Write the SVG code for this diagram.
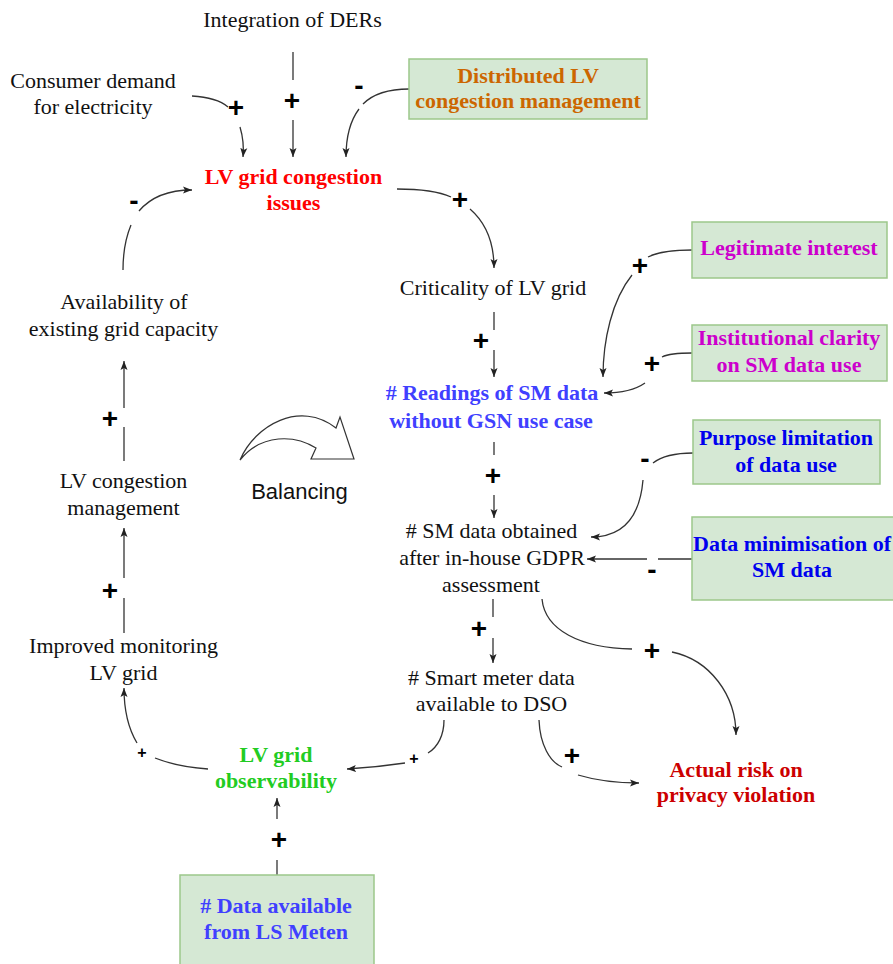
<svg xmlns="http://www.w3.org/2000/svg" width="893" height="964" viewBox="0 0 893 964">
<style>
.t{font-family:"Liberation Serif","Times New Roman",serif;font-size:22px;text-anchor:middle;fill:#111}
.b{font-weight:bold}
.box{fill:#d5e8d4;stroke:#9cc78a;stroke-width:1.5}
.c{fill:none;stroke:#333;stroke-width:1.3}
.a{marker-end:url(#arr)}
.s{font-family:"Liberation Sans",Arial,sans-serif;font-weight:bold;font-size:28px;text-anchor:middle;fill:#000}
.ss{font-family:"Liberation Sans",Arial,sans-serif;font-weight:bold;font-size:16px;text-anchor:middle;fill:#000}
</style>
<defs>
<marker id="arr" markerUnits="userSpaceOnUse" markerWidth="10" markerHeight="8" refX="9" refY="4" orient="auto">
<path d="M0,0.5 L9,4 L0,7.5 L2,4 Z" fill="#222"/>
</marker>
</defs>
<rect width="893" height="964" fill="#fff"/>

<g id="connectors">
<path class="c" d="M192,96 C210,97 221,101 228,107"/>
<path class="c a" d="M240,127 C243,137 244,146 243,157"/>
<text class="s" x="236" y="117">+</text>

<path class="c" d="M293,52 L293,80"/>
<path class="c a" d="M293,120 L293,157"/>
<text class="s" x="292" y="110">+</text>

<path class="c" d="M409,89 C388,89 372,95 363,104"/>
<path class="c a" d="M359,109 C350,121 346,138 346,157"/>
<text class="s" x="359" y="95">-</text>

<path class="c" d="M397,189 C420,189 440,192 451,197"/>
<path class="c a" d="M470,209 C485,222 494,240 494,268"/>
<text class="s" x="460" y="209">+</text>

<path class="c" d="M494,312 L494,330"/>
<path class="c a" d="M494,350 L494,377"/>
<text class="s" x="481" y="350">+</text>

<path class="c" d="M692,250 C672,250 658,252 648,257"/>
<path class="c a" d="M632,275 C612,300 603,340 603,377"/>
<text class="s" x="640" y="275">+</text>

<path class="c" d="M692,353 C678,353 668,354 662,357"/>
<path class="c a" d="M645,383 C635,390 620,393 604,393"/>
<text class="s" x="652" y="373">+</text>

<path class="c" d="M494,442 L494,455"/>
<path class="c a" d="M494,495 L494,518"/>
<text class="s" x="493" y="485">+</text>

<path class="c" d="M693,453 C675,453 662,456 653,463"/>
<path class="c a" d="M643,480 C640,515 625,537 591,537"/>
<text class="s" x="645" y="468">-</text>

<path class="c" d="M692,559 L658,559"/>
<path class="c a" d="M647,559 L587,559"/>
<text class="s" x="652" y="579">-</text>

<path class="c" d="M493,599 L493,617"/>
<path class="c a" d="M493,638 L493,663"/>
<text class="s" x="479" y="638">+</text>

<path class="c" d="M542,599 C545,630 580,648 632,649"/>
<path class="c a" d="M672,652 C710,660 736,695 736,735"/>
<text class="s" x="652" y="660">+</text>

<path class="c" d="M539,720 C540,745 550,762 562,767"/>
<path class="c a" d="M578,775 C598,781 620,783 639,783"/>
<text class="s" x="572" y="765">+</text>

<path class="c" d="M444,720 C444,735 438,747 428,753"/>
<path class="c a" d="M405,763 C385,766 365,768 347,769"/>
<text class="ss" x="414" y="764">+</text>

<path class="c" d="M208,769 C180,767 165,762 155,758"/>
<path class="c a" d="M137,743 C128,728 124,710 124,688"/>
<text class="ss" x="142" y="758">+</text>

<path class="c" d="M124,633 L124,598"/>
<path class="c a" d="M124,578 L124,528"/>
<text class="s" x="110" y="600">+</text>

<path class="c" d="M124,461 L124,427"/>
<path class="c a" d="M124,408 L124,361"/>
<text class="s" x="110" y="428">+</text>

<path class="c" d="M123,270 C123,252 126,237 131,225"/>
<path class="c a" d="M139,211 C150,198 168,190 192,190"/>
<text class="s" x="134" y="210">-</text>

<path class="c" d="M277,875 L277,860"/>
<path class="c a" d="M277,819 L277,798"/>
<text class="s" x="279" y="849">+</text>
</g>

<g id="balancing">
<path d="M240,460 C255,425 300,400 336,428 L340,417 L354,459 L311,459 L316,448 C295,435 262,433 240,460 Z" fill="#fff" stroke="#333" stroke-width="1.2"/>
<text x="299.5" y="499" font-family="Liberation Sans, Arial, sans-serif" font-size="22" text-anchor="middle" fill="#111">Balancing</text>
</g>

<g id="integration-ders"><text class="t" x="292.5" y="27">Integration of DERs</text></g>
<g id="consumer-demand"><text class="t" x="93" y="88">Consumer demand</text><text class="t" x="93" y="114">for electricity</text></g>
<g id="distributed-lv">
<rect class="box" x="409" y="59" width="238" height="60"/>
<text class="t b" x="528" y="83" style="fill:#cc6600">Distributed LV</text>
<text class="t b" x="528" y="108" style="fill:#cc6600">congestion management</text>
</g>
<g id="lv-grid-congestion"><text class="t b" x="293.5" y="184" style="fill:#ff0000">LV grid congestion</text><text class="t b" x="293.5" y="210" style="fill:#ff0000">issues</text></g>
<g id="criticality"><text class="t" x="493" y="295">Criticality of LV grid</text></g>
<g id="legitimate-interest">
<rect class="box" x="692" y="222" width="195" height="56"/>
<text class="t b" x="789" y="255" style="fill:#cc00cc">Legitimate interest</text>
</g>
<g id="institutional-clarity">
<rect class="box" x="692" y="325" width="195" height="56"/>
<text class="t b" x="789" y="345" style="fill:#cc00cc">Institutional clarity</text>
<text class="t b" x="789" y="372" style="fill:#cc00cc">on SM data use</text>
</g>
<g id="readings-sm-data"><text class="t b" x="492" y="400" style="fill:#4040ff"># Readings of SM data</text><text class="t b" x="491" y="428" style="fill:#4040ff">without GSN use case</text></g>
<g id="purpose-limitation">
<rect class="box" x="693" y="420" width="187" height="64"/>
<text class="t b" x="786" y="445" style="fill:#0000ee">Purpose limitation</text>
<text class="t b" x="786" y="472" style="fill:#0000ee">of data use</text>
</g>
<g id="data-minimisation">
<rect class="box" x="692" y="517" width="210" height="83"/>
<text class="t b" x="792" y="551" style="fill:#0000ee">Data minimisation of</text>
<text class="t b" x="792" y="577" style="fill:#0000ee">SM data</text>
</g>
<g id="sm-data-obtained"><text class="t" x="491.5" y="538"># SM data obtained</text><text class="t" x="492" y="565">after in-house GDPR</text><text class="t" x="491" y="592">assessment</text></g>
<g id="smart-meter-data"><text class="t" x="491.5" y="685"># Smart meter data</text><text class="t" x="491.5" y="711">available to DSO</text></g>
<g id="actual-risk"><text class="t b" x="736" y="777" style="fill:#cc0000">Actual risk on</text><text class="t b" x="736" y="802" style="fill:#cc0000">privacy violation</text></g>
<g id="lv-grid-observability"><text class="t b" x="276" y="762" style="fill:#22cc22">LV grid</text><text class="t b" x="276" y="788" style="fill:#22cc22">observability</text></g>
<g id="improved-monitoring"><text class="t" x="123.5" y="653">Improved monitoring</text><text class="t" x="123.5" y="680">LV grid</text></g>
<g id="lv-congestion-management"><text class="t" x="123.5" y="488">LV congestion</text><text class="t" x="123.5" y="515">management</text></g>
<g id="availability-capacity"><text class="t" x="124" y="309">Availability of</text><text class="t" x="123.5" y="336">existing grid capacity</text></g>
<g id="data-ls-meten">
<rect class="box" x="180" y="875" width="194" height="95"/>
<text class="t b" x="276" y="913" style="fill:#4040ff"># Data available</text>
<text class="t b" x="276" y="939" style="fill:#4040ff">from LS Meten</text>
</g>
</svg>
